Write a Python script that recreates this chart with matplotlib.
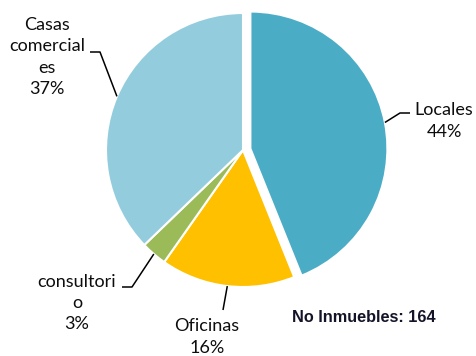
import numpy as np
import matplotlib
matplotlib.use("Agg")
import matplotlib.pyplot as plt

# inmuebles por tipo (total 164)
tipos = ["Locales", "Oficinas", "consultorio", "Casas comerciales"]
cantidades = [72, 26, 5, 61]
etiquetas = ["Locales", "Oficinas", "consultori\no", "Casas\ncomercial\nes"]
colores = ["#4BACC6", "#FFC000", "#9BBB59", "#93CDDD"]
separar = [0.055, 0, 0, 0]
total = sum(cantidades)

W, H = 476, 356
fig = plt.figure(figsize=(W / 100, H / 100), dpi=100)
ax = fig.add_axes([0, 0, 1, 1])

cx, cy, r = 243, H - 150, 137
# explode de matplotlib va en unidades de datos, no en fraccion del radio
wedges, _ = ax.pie(cantidades, colors=colores, explode=[s * r for s in separar],
                   startangle=90, counterclock=False, center=(cx, cy), radius=r,
                   wedgeprops=dict(edgecolor="white", linewidth=1.5))

# el pie cambia los limites, se fijan despues en pixeles
ax.set_xlim(0, W)
ax.set_ylim(0, H)
ax.set_aspect("equal")
ax.axis("off")

# posicion del texto, codo y fin de la linea guia (en pixeles)
guias = [
    dict(texto=(444, H - 121), codo=(400, H - 113), fin=(410, H - 113)),
    dict(texto=(207, H - 337), codo=(223, H - 310), fin=(223, H - 310)),
    dict(texto=(77, H - 303), codo=(132, H - 287), fin=(122, H - 287)),
    dict(texto=(47, H - 57), codo=(100, H - 52), fin=(90, H - 52)),
]

fuente = ["Lato", "DejaVu Sans"]
for w, et, n, g in zip(wedges, etiquetas, cantidades, guias):
    ang = np.deg2rad((w.theta1 + w.theta2) / 2)
    x0 = w.center[0] + w.r * np.cos(ang)
    y0 = w.center[1] + w.r * np.sin(ang)
    ax.plot([x0, g["codo"][0], g["fin"][0]], [y0, g["codo"][1], g["fin"][1]],
            color="black", lw=1.1, solid_capstyle="butt")
    pct = round(100 * n / total)
    ax.text(g["texto"][0], g["texto"][1], f"{et}\n{pct}%", ha="center", va="center",
            fontsize=13, family=fuente, linespacing=1.4, color="#0d0d0d")

ax.text(292, H - 317, f"No Inmuebles: {total}", ha="left", va="center",
        fontsize=11.7, family=["Liberation Sans", "DejaVu Sans"], fontweight="bold",
        color="#141428")

fig.savefig("out.png", dpi=100)
